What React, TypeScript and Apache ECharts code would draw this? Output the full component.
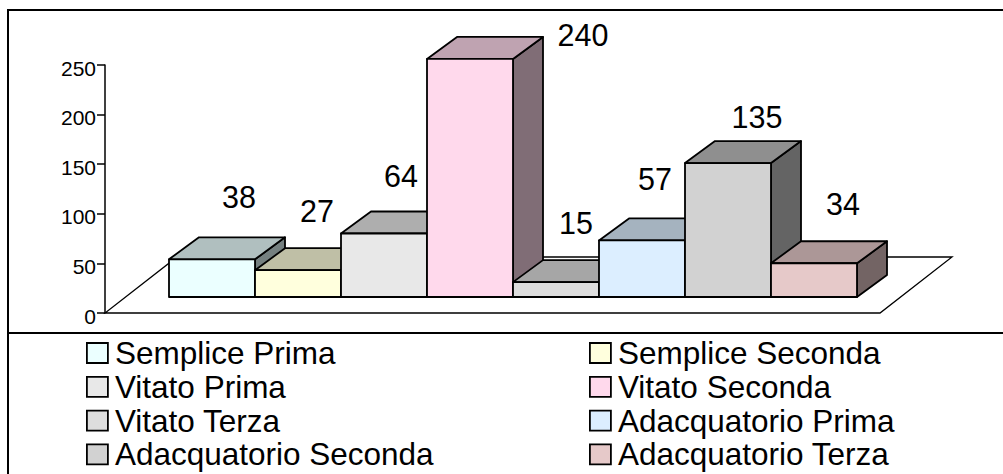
import React, { useEffect, useRef } from "react";
import * as echarts from "echarts";

// Land use and yield class, one bar per combination.
const seriesNames = [
  "Semplice Prima",
  "Semplice Seconda",
  "Vitato Prima",
  "Vitato Seconda",
  "Vitato Terza",
  "Adacquatorio Prima",
  "Adacquatorio Seconda",
  "Adacquatorio Terza",
];
const seriesValues = [38, 27, 64, 240, 15, 57, 135, 34];
const yTicks = { min: 0, max: 250, step: 50 };

const frontColors = ["#EBFFFF", "#FFFFDD", "#E8E8E8", "#FFD9EC", "#DDDDDD", "#DCEEFF", "#D2D2D2", "#E6C9C9"];
const topColors = ["#B0BFBF", "#BFBFA6", "#AEAEAE", "#BFA3B1", "#A6A6A6", "#A5B3BF", "#8F8F8F", "#AC9797"];
const sideColors = ["#758080", "#80806E", "#747474", "#806D76", "#6E6E6E", "#6E7780", "#646464", "#736464"];

// Hand-placed value labels, relative to the back-top edge of each bar.
const labelShiftX = [27, 19, 17, 113, 20, 13, 29, 29];
const labelShiftY = [-40, -37, -36, -2, -37, -39, -24, -37];

const FONT = '"Liberation Sans", Arial, sans-serif';
const DEPTH_X = 30;
const DEPTH_Y = 22;
const BASE_LIFT = 16;
const AXIS_OFFSET = 64;
const FLOOR_RIGHT = 23;
const FLOOR_DEPTH_X = 72;
const FLOOR_DEPTH_Y = 56;

const renderBar = (index: number) => (_params: any, api: any) => {
  const band = api.size([1, 0])[0];
  const [cx, topRaw] = api.coord([api.value(0), api.value(1)]);
  const zeroY = api.coord([api.value(0), 0])[1];
  const left = cx - band / 2;
  const right = cx + band / 2;
  const base = zeroY - BASE_LIFT;
  const top = topRaw - BASE_LIFT;
  const stroke = { stroke: "#000", lineWidth: 1.8, lineJoin: "round" };
  return {
    type: "group",
    children: [
      {
        type: "polygon",
        shape: { points: [[right, top], [right + DEPTH_X, top - DEPTH_Y], [right + DEPTH_X, base - DEPTH_Y], [right, base]] },
        style: { fill: sideColors[index], ...stroke },
      },
      {
        type: "polygon",
        shape: { points: [[left, top], [left + DEPTH_X, top - DEPTH_Y], [right + DEPTH_X, top - DEPTH_Y], [right, top]] },
        style: { fill: topColors[index], ...stroke },
      },
      {
        type: "polygon",
        shape: { points: [[left, top], [right, top], [right, base], [left, base]] },
        style: { fill: frontColors[index], ...stroke },
      },
      {
        type: "text",
        z2: 50,
        style: {
          text: String(seriesValues[index]),
          x: cx + labelShiftX[index],
          y: top - DEPTH_Y + labelShiftY[index],
          fill: "#000",
          fontSize: 30.5,
          fontFamily: FONT,
          align: "center",
          verticalAlign: "middle",
        },
      },
    ],
  };
};

// Parallelogram the bars stand on.
const renderFloor = (_params: any, api: any) => {
  const band = api.size([1, 0])[0];
  const [cx, y] = api.coord([0, 0]);
  const last = api.coord([seriesNames.length - 1, 0])[0];
  const x0 = cx - band / 2 - AXIS_OFFSET;
  const x1 = last + band / 2 + FLOOR_RIGHT;
  return {
    type: "polygon",
    shape: { points: [[x0, y], [x1, y], [x1 + FLOOR_DEPTH_X, y - FLOOR_DEPTH_Y], [x0 + FLOOR_DEPTH_X, y - FLOOR_DEPTH_Y]] },
    style: { fill: "#fff", stroke: "#000", lineWidth: 1.3 },
  };
};

const legendColumn = (left: number, names: string[]) => ({
  left,
  top: 337,
  height: 200,
  orient: "vertical" as const,
  padding: 0,
  selectedMode: false,
  itemWidth: 21,
  itemHeight: 20,
  itemGap: 1.8,
  icon: "rect",
  itemStyle: { borderColor: "#000", borderWidth: 1.8 },
  textStyle: { fontFamily: FONT, fontSize: 31.5, color: "#000", padding: [0, 0, 0, 2] },
  data: names,
});

export default function App() {
  const ref = useRef<HTMLDivElement>(null);
  useEffect(() => {
    const chart = echarts.init(ref.current!, null, { renderer: "svg" });
    chart.setOption({
      animation: false,
      backgroundColor: "#fff",
      grid: { left: 169, width: 688, top: 65, height: 248 },
      xAxis: { type: "category", data: seriesNames, show: false },
      yAxis: {
        type: "value",
        min: yTicks.min,
        max: yTicks.max,
        interval: yTicks.step,
        offset: AXIS_OFFSET,
        splitLine: { show: false },
        axisLine: { show: true, lineStyle: { color: "#000", width: 1.5 } },
        axisTick: { show: true, length: 8, lineStyle: { color: "#000", width: 1.5 } },
        axisLabel: { color: "#000", fontFamily: FONT, fontSize: 21, margin: 9, verticalAlign: "top", lineHeight: 6 },
      },
      legend: [
        legendColumn(86, seriesNames.filter((_, i) => i % 2 === 0)),
        legendColumn(589, seriesNames.filter((_, i) => i % 2 === 1)),
      ],
      graphic: [
        {
          type: "rect",
          silent: true,
          z: 100,
          shape: { x: 8, y: 10, width: 1100, height: 600 },
          style: { fill: "none", stroke: "#000", lineWidth: 2 },
        },
        {
          type: "line",
          silent: true,
          z: 100,
          shape: { x1: 8, y1: 333, x2: 1003, y2: 333 },
          style: { stroke: "#000", lineWidth: 2 },
        },
      ],
      series: [
        { type: "custom", name: "floor", silent: true, data: [[0, 0]], renderItem: renderFloor, z: 1 },
        ...seriesNames.map((name, i) => ({
          type: "custom",
          name,
          silent: true,
          z: 2 + i,
          itemStyle: { color: frontColors[i] },
          data: [[i, seriesValues[i]]],
          renderItem: renderBar(i),
        })),
      ],
    });
    return () => chart.dispose();
  }, []);
  return <div ref={ref} style={{ position: "fixed", left: 0, top: 0, width: 1003, height: 474 }} />;
}
